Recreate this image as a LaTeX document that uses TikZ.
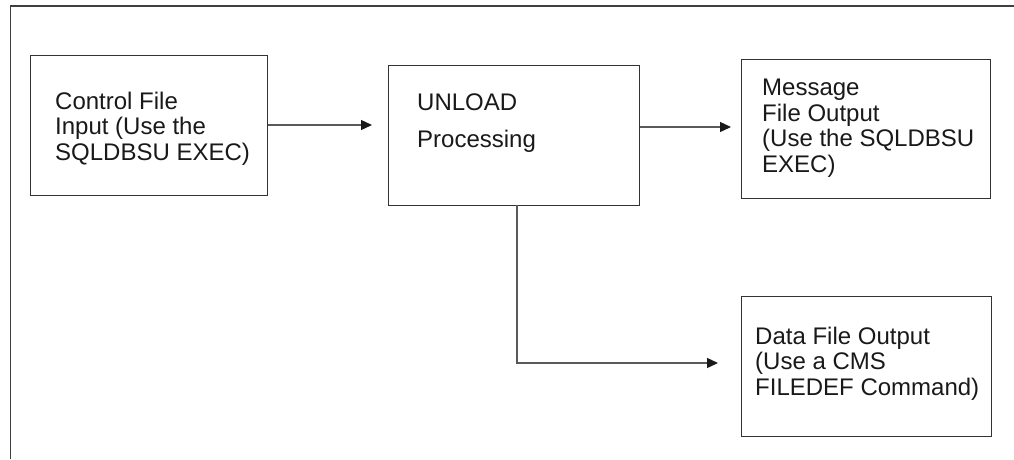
\documentclass[tikz,border=0pt]{standalone}
\usepackage{fontspec}
\setmainfont{Liberation Sans}
\usetikzlibrary{arrows.meta}
\begin{document}
\begin{tikzpicture}[x=1pt,y=-1pt,
  box/.style={draw=black!80,line width=1.3pt,inner sep=0pt,anchor=north west},
  lbl/.style={anchor=base west,inner sep=0pt,align=left,font=\fontsize{24}{25.5}\selectfont,text=black!90},
  conn/.style={draw=black!65,line width=1.3pt,-{Triangle[length=11pt,width=10pt,color=black!90]}}]
\useasboundingbox (0,0) rectangle (1014,459);
% outer frame (left and top sides)
\draw[black!75,line width=1.6pt] (10.5,459) -- (10.5,6) -- (1014,6);
% boxes
\node[box,minimum width=237pt,minimum height=140pt] (ctl) at (30,55) {};
\node[box,minimum width=251pt,minimum height=140pt] (unl) at (388,65) {};
\node[box,minimum width=249pt,minimum height=139pt] (msg) at (741,59) {};
\node[box,minimum width=250pt,minimum height=140pt] (dat) at (741,296) {};
% texts (anchored at the baseline of their last line)
\node[lbl] (ctlt) at (55,160) {Control File\\Input (Use the\\SQLDBSU EXEC)};
\node[lbl] (unlt) at (417,147) {UNLOAD\\[11.5pt]Processing};
\node[lbl] (msgt) at (762,172) {Message\\File Output\\(Use the SQLDBSU\\EXEC)};
\node[lbl] (datt) at (755,395) {Data File Output\\(Use a CMS\\FILEDEF Command)};
% connectors
\coordinate (t1) at (372,125);
\coordinate (t2) at (731,127);
\coordinate (t3) at (718,363);
\coordinate (d0) at (517,205);
\draw[conn] (ctl.east |- t1) -- (t1);
\draw[conn] (unl.east |- t2) -- (t2);
\draw[conn] (d0) |- (t3);
\end{tikzpicture}
\end{document}
